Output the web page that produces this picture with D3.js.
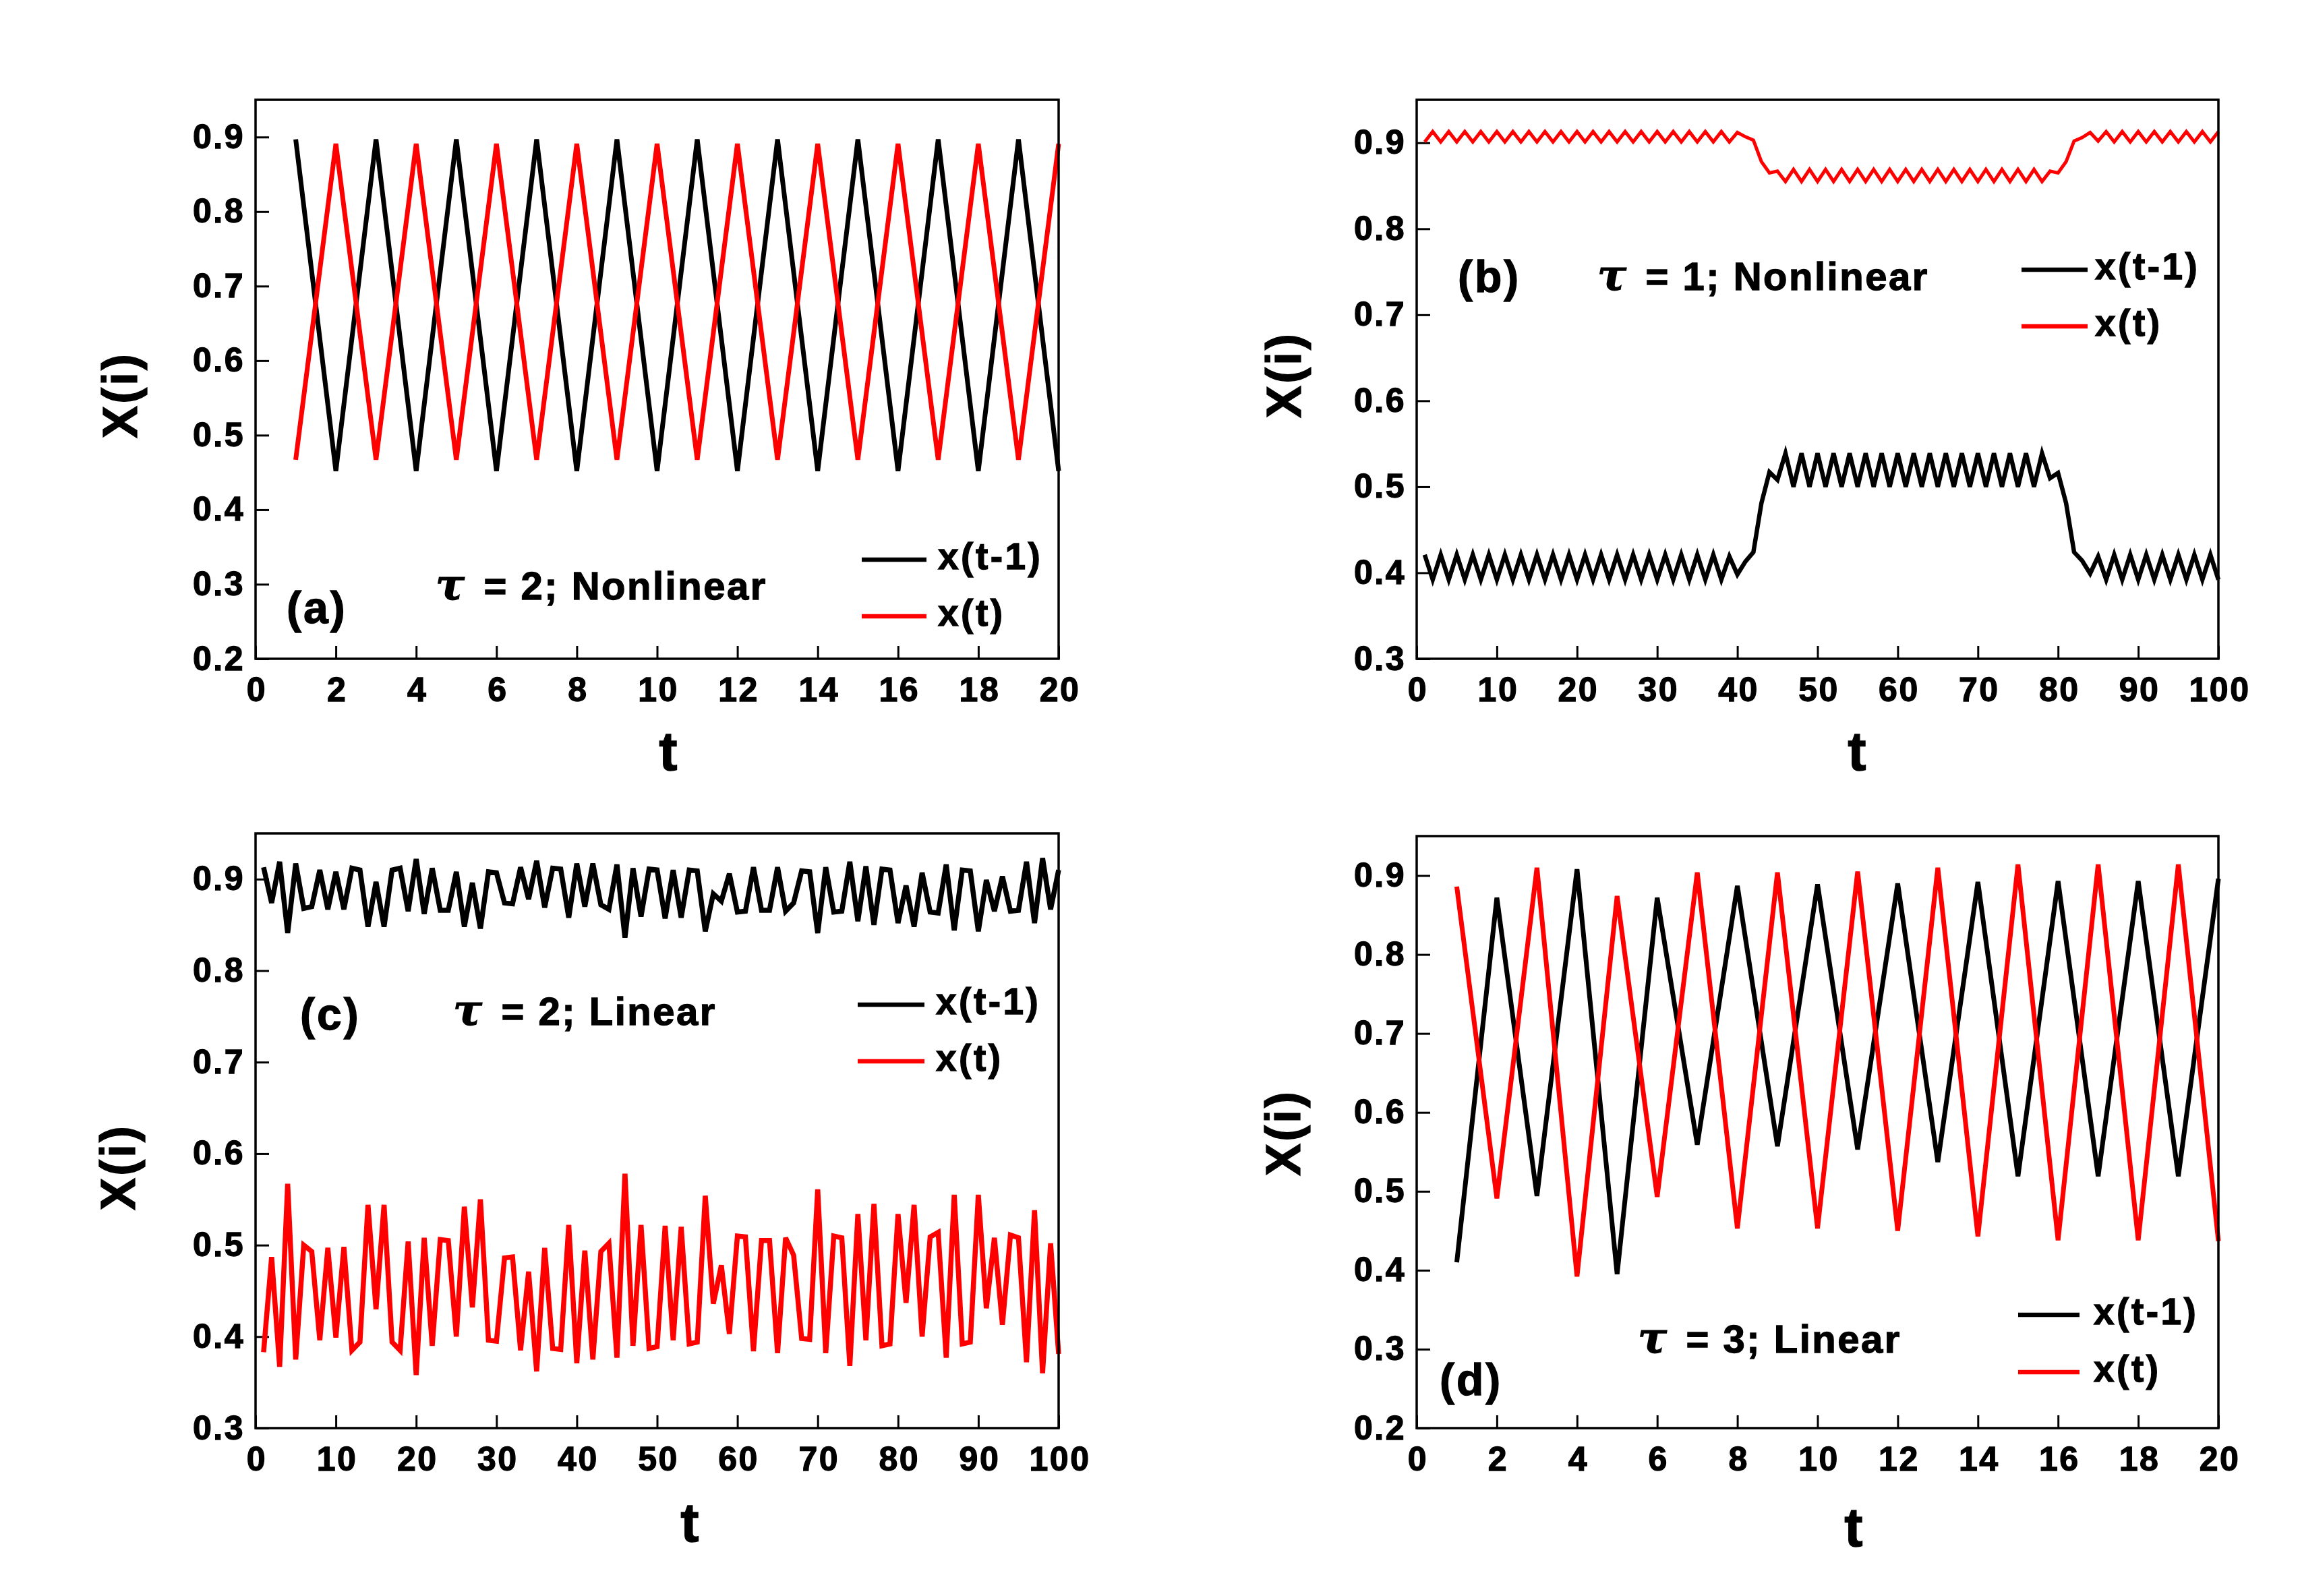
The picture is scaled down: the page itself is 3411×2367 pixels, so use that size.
<!DOCTYPE html>
<html>
<head>
<meta charset="utf-8">
<script src="https://cdn.jsdelivr.net/npm/d3@7"></script>
<style>
  html, body { margin: 0; padding: 0; background: #fff; }
  svg { display: block; }
  text { font-family: "Liberation Sans", Arial, sans-serif; font-weight: bold; fill: #000;
         stroke: #000; stroke-width: 1.3; paint-order: stroke; }
</style>
</head>
<body>
<div class="chart"></div>
<script>
// ---- data ----
const tShort = d3.range(1, 21);     // t = 1..20 (panels a, d)
const tLong = d3.range(1, 101);     // t = 1..100 (panels b, c)

const shortTicks = [0, 2, 4, 6, 8, 10, 12, 14, 16, 18, 20];
const longTicks = [0, 10, 20, 30, 40, 50, 60, 70, 80, 90, 100];
const yTicksLow = [0.2, 0.3, 0.4, 0.5, 0.6, 0.7, 0.8, 0.9];
const yTicksHigh = [0.3, 0.4, 0.5, 0.6, 0.7, 0.8, 0.9];

// (a) tau = 2, nonlinear
const aPrev = [0.897, 0.452, 0.897, 0.452, 0.897, 0.452, 0.897, 0.452, 0.897, 0.452,
               0.897, 0.452, 0.897, 0.452, 0.897, 0.452, 0.897, 0.452, 0.897, 0.452];
const aCurr = [0.467, 0.891, 0.467, 0.891, 0.467, 0.891, 0.467, 0.891, 0.467, 0.891,
               0.467, 0.891, 0.467, 0.891, 0.467, 0.891, 0.467, 0.891, 0.467, 0.891];

// (b) tau = 1, nonlinear
const bPrev = [
  0.421, 0.392, 0.421, 0.392, 0.421, 0.392, 0.421, 0.392, 0.421, 0.392,
  0.421, 0.392, 0.421, 0.392, 0.421, 0.392, 0.421, 0.392, 0.421, 0.392,
  0.421, 0.392, 0.421, 0.392, 0.421, 0.392, 0.421, 0.392, 0.421, 0.392,
  0.421, 0.392, 0.421, 0.392, 0.421, 0.392, 0.421, 0.392, 0.419, 0.398,
  0.413, 0.424, 0.481, 0.517, 0.508, 0.539, 0.500, 0.539, 0.500, 0.539,
  0.500, 0.539, 0.500, 0.539, 0.500, 0.539, 0.500, 0.539, 0.500, 0.539,
  0.500, 0.539, 0.500, 0.539, 0.500, 0.539, 0.500, 0.539, 0.500, 0.539,
  0.500, 0.539, 0.500, 0.539, 0.500, 0.539, 0.500, 0.539, 0.510, 0.516,
  0.481, 0.424, 0.414, 0.399, 0.419, 0.392, 0.421, 0.392, 0.421, 0.392,
  0.421, 0.392, 0.421, 0.392, 0.421, 0.392, 0.421, 0.392, 0.421, 0.392];
const bCurr = [
  0.901, 0.913, 0.901, 0.913, 0.901, 0.913, 0.901, 0.913, 0.901, 0.913,
  0.901, 0.913, 0.901, 0.913, 0.901, 0.913, 0.901, 0.913, 0.901, 0.913,
  0.901, 0.913, 0.901, 0.913, 0.901, 0.913, 0.901, 0.913, 0.901, 0.913,
  0.901, 0.913, 0.901, 0.913, 0.901, 0.913, 0.901, 0.913, 0.901, 0.912,
  0.907, 0.903, 0.878, 0.865, 0.867, 0.855, 0.869, 0.855, 0.869, 0.855,
  0.869, 0.855, 0.869, 0.855, 0.869, 0.855, 0.869, 0.855, 0.869, 0.855,
  0.869, 0.855, 0.869, 0.855, 0.869, 0.855, 0.869, 0.855, 0.869, 0.855,
  0.869, 0.855, 0.869, 0.855, 0.869, 0.855, 0.869, 0.855, 0.867, 0.865,
  0.878, 0.902, 0.906, 0.912, 0.902, 0.913, 0.901, 0.913, 0.901, 0.913,
  0.901, 0.913, 0.901, 0.913, 0.901, 0.913, 0.901, 0.913, 0.901, 0.913];

// (c) tau = 2, linear
const cPrev = [
  0.913, 0.874, 0.919, 0.841, 0.917, 0.868, 0.870, 0.910, 0.867, 0.908,
  0.867, 0.912, 0.910, 0.848, 0.897, 0.848, 0.910, 0.912, 0.865, 0.922,
  0.862, 0.912, 0.866, 0.866, 0.908, 0.848, 0.896, 0.846, 0.908, 0.907,
  0.874, 0.873, 0.913, 0.878, 0.920, 0.869, 0.912, 0.911, 0.858, 0.917,
  0.870, 0.917, 0.872, 0.867, 0.916, 0.836, 0.912, 0.859, 0.911, 0.910,
  0.857, 0.910, 0.858, 0.910, 0.909, 0.843, 0.884, 0.876, 0.906, 0.864,
  0.865, 0.913, 0.866, 0.866, 0.913, 0.865, 0.874, 0.909, 0.908, 0.841,
  0.913, 0.864, 0.865, 0.919, 0.854, 0.914, 0.850, 0.911, 0.910, 0.852,
  0.893, 0.848, 0.907, 0.864, 0.863, 0.916, 0.844, 0.910, 0.909, 0.843,
  0.899, 0.865, 0.903, 0.865, 0.866, 0.919, 0.852, 0.923, 0.867, 0.910];
const cCurr = [
  0.383, 0.487, 0.367, 0.567, 0.375, 0.500, 0.493, 0.396, 0.497, 0.399,
  0.498, 0.385, 0.394, 0.544, 0.430, 0.544, 0.394, 0.385, 0.504, 0.358,
  0.508, 0.390, 0.506, 0.505, 0.400, 0.542, 0.432, 0.550, 0.396, 0.395,
  0.486, 0.487, 0.385, 0.471, 0.362, 0.497, 0.387, 0.386, 0.522, 0.371,
  0.494, 0.375, 0.493, 0.502, 0.377, 0.578, 0.390, 0.522, 0.387, 0.389,
  0.521, 0.396, 0.520, 0.392, 0.394, 0.554, 0.436, 0.478, 0.403, 0.510,
  0.509, 0.384, 0.505, 0.505, 0.382, 0.508, 0.489, 0.398, 0.397, 0.561,
  0.382, 0.510, 0.508, 0.368, 0.534, 0.396, 0.545, 0.390, 0.392, 0.534,
  0.437, 0.544, 0.400, 0.509, 0.514, 0.377, 0.555, 0.392, 0.394, 0.555,
  0.431, 0.508, 0.413, 0.511, 0.508, 0.372, 0.538, 0.360, 0.502, 0.381];

// (d) tau = 3, linear
const dPrev = [0.410, 0.872, 0.494, 0.908, 0.395, 0.872, 0.559, 0.887, 0.557, 0.889,
               0.553, 0.890, 0.537, 0.892, 0.519, 0.893, 0.519, 0.893, 0.519, 0.896];
const dCurr = [0.886, 0.491, 0.910, 0.392, 0.874, 0.493, 0.904, 0.453, 0.904, 0.453,
               0.905, 0.450, 0.910, 0.443, 0.914, 0.438, 0.914, 0.438, 0.914, 0.437];

const legendNames = ["x(t-1)", "x(t)"];
const seriesColors = ["#000000", "#ff0000"];

// ---- panel layout (pixels) ----
const panels = [
  { name: "(a)", tau: "= 2; Nonlinear", t: tShort, prev: aPrev, curr: aCurr,
    xMax: 20, xTicks: shortTicks, yMin: 0.2, yTicks: yTicksLow,
    box: [379, 148, 1570, 977], widths: [7, 7],
    yLabel: [203, 586], tLabel: [991, 1142],
    tag: [425, 924], note: [646, 889],
    legend: { x0: 1278, x1: 1374, y: [830, 914], tx: 1391 } },
  { name: "(b)", tau: "= 1; Nonlinear", t: tLong, prev: bPrev, curr: bCurr,
    xMax: 100, xTicks: longTicks, yMin: 0.3, yTicks: yTicksHigh,
    box: [2101, 148, 3290, 977], widths: [6.5, 5],
    yLabel: [1929, 556], tLabel: [2754, 1142],
    tag: [2162, 433], note: [2369, 430],
    legend: { x0: 2998, x1: 3096, y: [400, 484], tx: 3107 } },
  { name: "(c)", tau: "= 2; Linear", t: tLong, prev: cPrev, curr: cCurr,
    xMax: 100, xTicks: longTicks, yMin: 0.3, yTicks: yTicksHigh,
    box: [379, 1236, 1570, 2118], widths: [7.5, 7.5],
    yLabel: [200, 1731], tLabel: [1023, 2286],
    tag: [445, 1527], note: [672, 1520],
    legend: { x0: 1272, x1: 1371, y: [1490, 1574], tx: 1388 } },
  { name: "(d)", tau: "= 3; Linear", t: tShort, prev: dPrev, curr: dCurr,
    xMax: 20, xTicks: shortTicks, yMin: 0.2, yTicks: yTicksLow,
    box: [2101, 1240, 3290, 2118], widths: [7, 7],
    yLabel: [1928, 1680], tLabel: [2749, 2293],
    tag: [2135, 2069], note: [2429, 2006],
    legend: { x0: 2993, x1: 3084, y: [1950, 2035], tx: 3105 } }
];

const W = 3411, H = 2367;
const svg = d3.select('.chart').append('svg')
  .attr('width', W)
  .attr('height', H)
  .attr('viewBox', '0 0 ' + W + ' ' + H);

svg.append('rect').attr('width', W).attr('height', H).attr('fill', '#fff');

panels.forEach(function(p) {
  const [left, top, right, bottom] = p.box;
  const x = d3.scaleLinear().domain([0, p.xMax]).range([left, right]);
  const y = d3.scaleLinear().domain([p.yMin, 0.95]).range([bottom, top]);
  const g = svg.append('g');

  // bottom axis, ticks pointing inward
  const xAxis = g.append('g')
    .attr('transform', 'translate(0,' + bottom + ')')
    .call(d3.axisBottom(x).tickValues(p.xTicks).tickFormat(d3.format('d'))
      .tickSize(-19).tickPadding(27));
  // left axis
  const yAxis = g.append('g')
    .attr('transform', 'translate(' + left + ',0)')
    .call(d3.axisLeft(y).tickValues(p.yTicks).tickFormat(d3.format('.1f'))
      .tickSize(-20).tickPadding(16));

  [xAxis, yAxis].forEach(function(ax) {
    ax.select('.domain').remove();
    ax.selectAll('.tick line').attr('stroke', '#000').attr('stroke-width', 3);
    ax.selectAll('.tick text')
      .attr('font-family', '"Liberation Sans", Arial, sans-serif')
      .attr('font-weight', 'bold')
      .attr('font-size', 50)
      .attr('letter-spacing', 2.5)
      .attr('fill', '#000');
  });
  xAxis.selectAll('.tick text').attr('dx', 1.5);

  // data lines
  [p.prev, p.curr].forEach(function(vals, i) {
    const line = d3.line()
      .x(function(d, k) { return x(p.t[k]); })
      .y(function(d) { return y(d); });
    g.append('path')
      .datum(vals)
      .attr('d', line)
      .attr('fill', 'none')
      .attr('stroke', seriesColors[i])
      .attr('stroke-width', p.widths[i])
      .attr('stroke-linejoin', 'miter')
      .attr('stroke-miterlimit', 4);
  });

  // frame
  g.append('rect')
    .attr('x', left).attr('y', top)
    .attr('width', right - left).attr('height', bottom - top)
    .attr('fill', 'none').attr('stroke', '#000').attr('stroke-width', 3.5);

  // axis titles
  g.append('text')
    .attr('transform', 'translate(' + p.yLabel[0] + ',' + p.yLabel[1] + ') rotate(-90)')
    .attr('text-anchor', 'middle')
    .attr('font-size', 72)
    .attr('letter-spacing', 3)
    .text('X(i)');
  g.append('text')
    .attr('x', p.tLabel[0]).attr('y', p.tLabel[1])
    .attr('text-anchor', 'middle')
    .attr('font-size', 82)
    .text('t');

  // panel tag and note
  g.append('text')
    .attr('x', p.tag[0]).attr('y', p.tag[1])
    .attr('font-size', 66)
    .attr('letter-spacing', 3)
    .text(p.name);
  const note = g.append('text')
    .attr('x', p.note[0]).attr('y', p.note[1])
    .attr('font-size', 58)
    .attr('letter-spacing', 2.5);
  note.append('tspan')
    .attr('font-family', '"DejaVu Serif", "Liberation Serif", serif')
    .attr('font-style', 'italic')
    .attr('font-weight', 'bold')
    .attr('font-size', 64)
    .text('\u03c4');
  note.append('tspan')
    .attr('dx', 26)
    .text(p.tau);

  // legend
  legendNames.forEach(function(name, i) {
    const ly = p.legend.y[i];
    g.append('line')
      .attr('x1', p.legend.x0).attr('x2', p.legend.x1)
      .attr('y1', ly).attr('y2', ly)
      .attr('stroke', seriesColors[i])
      .attr('stroke-width', 6.5);
    g.append('text')
      .attr('x', p.legend.tx).attr('y', ly + 14)
      .attr('font-size', 55)
      .attr('letter-spacing', 3.5)
      .text(name);
  });
});
</script>
</body>
</html>
